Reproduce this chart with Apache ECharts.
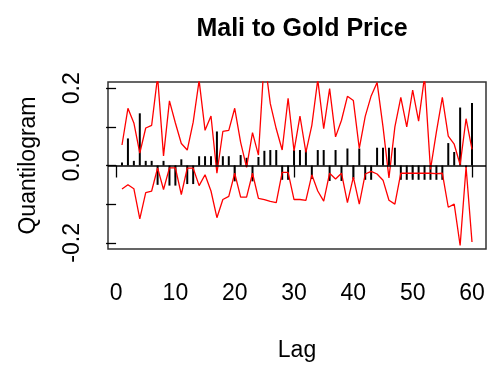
<!DOCTYPE html>
<html>
<head>
<meta charset="utf-8">
<script src="https://cdn.jsdelivr.net/npm/echarts@6/dist/echarts.min.js"></script>
<style>
html,body{margin:0;padding:0;background:#fff;}
#main{width:493px;height:367px;}
</style>
</head>
<body>
<div id="main"></div>
<script>
// lag 1..60
var lags = [1,2,3,4,5,6,7,8,9,10,11,12,13,14,15,16,17,18,19,20,
            21,22,23,24,25,26,27,28,29,30,31,32,33,34,35,36,37,38,39,40,
            41,42,43,44,45,46,47,48,49,50,51,52,53,54,55,56,57,58,59,60];
// quantilogram (black spikes)
var qgram = [0.008,0.07,0.012,0.135,0.012,0.012,-0.05,0.012,-0.052,-0.052,
             0.016,-0.048,-0.048,0.024,0.024,0.024,0.088,0.024,0.024,-0.041,
             0.027,0.02,-0.041,0.022,0.038,0.04,0.04,-0.037,-0.037,0.04,
             0.04,0.04,-0.035,0.04,0.04,-0.04,0.04,-0.04,0.044,-0.035,
             0.044,-0.037,-0.037,0.046,0.046,0.046,0.046,-0.037,-0.037,-0.037,
             -0.037,-0.037,-0.037,-0.037,-0.037,0.058,0.035,0.15,-0.005,0.162];
// upper band (red)
var upper = [0.053,0.148,0.11,0.032,0.097,0.104,0.23,0.025,0.167,0.11,
             0.057,0.04,0.112,0.22,0.091,0.128,-0.02,0.088,0.091,0.148,
             0.06,-0.005,0.085,0.027,0.28,0.16,0.095,0.04,0.174,0.038,
             0.128,0.034,0.104,0.222,0.095,0.199,0.074,0.117,0.179,0.168,
             0.044,0.127,0.18,0.215,0.1,-0.032,0.1,0.176,0.1,0.195,
             0.115,0.23,-0.01,0.087,0.176,0.076,0.055,0.002,0.121,0.042];
// lower band (red)
var lower = [-0.061,-0.05,-0.06,-0.138,-0.07,-0.066,-0.006,-0.062,-0.006,-0.006,
             -0.075,-0.007,-0.007,-0.052,-0.024,-0.066,-0.135,-0.088,-0.08,-0.02,
             -0.082,-0.082,-0.02,-0.085,-0.088,-0.093,-0.096,-0.018,-0.018,-0.088,
             -0.088,-0.09,-0.024,-0.066,-0.092,-0.02,-0.035,-0.02,-0.096,-0.03,
             -0.1,-0.022,-0.015,-0.022,-0.038,-0.09,-0.1,-0.02,-0.02,-0.02,
             -0.02,-0.02,-0.02,-0.021,-0.02,-0.108,-0.1,-0.207,-0.004,-0.198];
var xTicks = [0,10,20,30,40,50,60];
var yTicks = [-0.2,-0.1,0,0.1,0.2];
var yLabels = [-0.2,0,0.2];

function pairs(ys){
    var out = [];
    for (var i = 0; i < lags.length; i++) out.push([lags[i], ys[i]]);
    return out;
}

var font = 'Liberation Sans, Arial, sans-serif';
var chart = echarts.init(document.getElementById('main'));
var option = {
    animation: false,
    title: {
        text: 'Mali to Gold Price',
        left: 297,
        top: 12,
        textAlign: 'center',
        textStyle: {fontFamily: font, fontSize: 25, fontWeight: 'bold', color: '#000'}
    },
    grid: {
        left: 108, top: 82, right: 7, bottom: 118,
        show: true, borderColor: '#333', borderWidth: 1.5, backgroundColor: 'transparent'
    },
    xAxis: {
        type: 'value',
        min: -1.36, max: 62.36,
        name: 'Lag', nameLocation: 'middle', nameGap: 90,
        nameTextStyle: {fontFamily: font, fontSize: 23, color: '#000'},
        splitLine: {show: false},
        axisLine: {show: false},
        axisTick: {show: true, length: 12, customValues: xTicks, lineStyle: {color: '#000', width: 1.3}},
        axisLabel: {customValues: xTicks, margin: 33, fontFamily: font, fontSize: 23, color: '#000'}
    },
    yAxis: {
        type: 'value',
        min: -0.216, max: 0.216,
        name: 'Quantilogram', nameLocation: 'middle', nameGap: 68, nameRotate: 90,
        nameTextStyle: {fontFamily: font, fontSize: 23, color: '#000'},
        splitLine: {show: false},
        axisLine: {show: false},
        axisTick: {show: true, length: 10, customValues: yTicks, lineStyle: {color: '#000', width: 1.3}},
        axisLabel: {
            customValues: yLabels, rotate: 90, margin: 24,
            fontFamily: font, fontSize: 23, color: '#000',
            formatter: function(v){ return v.toFixed(1); }
        }
    },
    series: [
        {
            type: 'bar',
            data: pairs(qgram),
            barWidth: 2,
            itemStyle: {color: '#000'},
            markLine: {
                silent: true, symbol: 'none',
                label: {show: false},
                lineStyle: {color: '#000', width: 1.5, type: 'solid'},
                data: [{yAxis: 0}]
            }
        },
        {
            type: 'line', data: pairs(upper), symbol: 'none',
            lineStyle: {color: '#ff0000', width: 1.3}, itemStyle: {color: '#ff0000'}
        },
        {
            type: 'line', data: pairs(lower), symbol: 'none',
            lineStyle: {color: '#ff0000', width: 1.3}, itemStyle: {color: '#ff0000'}
        }
    ]
};
chart.setOption(option);
</script>
</body>
</html>
